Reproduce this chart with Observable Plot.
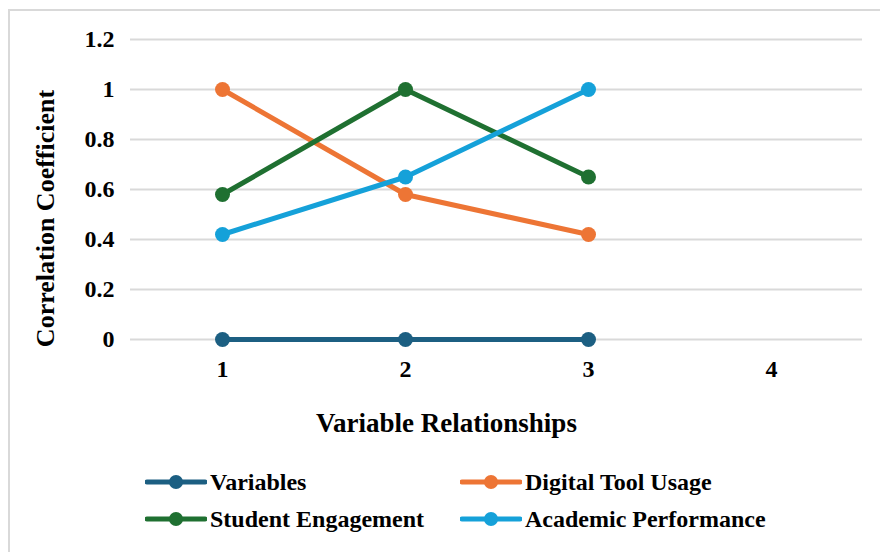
<!DOCTYPE html>
<html>
<head>
<meta charset="utf-8">
<script src="https://cdn.jsdelivr.net/npm/d3@7"></script>
<script src="https://cdn.jsdelivr.net/npm/@observablehq/plot@0.6"></script>
<style>
  html, body { margin: 0; padding: 0; background: #fff; }
  #wrap { position: relative; width: 880px; height: 552px; overflow: hidden; font-family: "Liberation Serif", "Times New Roman", serif; }
  #border { position: absolute; left: 8px; top: 9px; right: -10px; bottom: -10px; border-left: 2px solid #d9d9d9; border-top: 2px solid #d9d9d9; }
  #chart { position: absolute; left: 0; top: 0; }
  .leg { position: absolute; display: flex; align-items: center; font-weight: bold; font-size: 24px; color: #000; white-space: nowrap; }
  .leg svg { margin-right: 3px; }
</style>
</head>
<body>
<div id="wrap">
  <div id="border"></div>
  <div id="chart"></div>
</div>
<script>
const categories = [1, 2, 3, 4];
const seriesNames = ["Variables", "Digital Tool Usage", "Student Engagement", "Academic Performance"];
const seriesColors = ["#1c5f82", "#ed7535", "#1f7031", "#15a1d9"];
const xPoints = [1, 2, 3];
const variablesValues = [0, 0, 0];
const digitalValues = [1, 0.58, 0.42];
const engagementValues = [0.58, 1, 0.65];
const academicValues = [0.42, 0.65, 1];
const yTicks = [0, 0.2, 0.4, 0.6, 0.8, 1, 1.2];
const yTickLabels = ["0", "0.2", "0.4", "0.6", "0.8", "1", "1.2"];

const allValues = [variablesValues, digitalValues, engagementValues, academicValues];
const data = [];
seriesNames.forEach((s, i) => {
  xPoints.forEach((x, j) => data.push({series: s, x, y: allValues[i][j]}));
});

const font = "Liberation Serif, Times New Roman, serif";

const chart = Plot.plot({
  width: 880,
  height: 460,
  marginLeft: 130,
  marginRight: 18,
  marginTop: 39,
  marginBottom: 121,
  style: {fontFamily: font, fontWeight: "bold", fontSize: "24px", color: "#000", background: "transparent"},
  x: {type: "point", domain: categories, padding: 0.5, label: null},
  y: {domain: [0, 1.2], label: null},
  color: {domain: seriesNames, range: seriesColors},
  marks: [
    Plot.gridY(yTicks, {stroke: "#d9d9d9", strokeOpacity: 1, strokeWidth: 2}),
    Plot.axisY(yTicks, {tickSize: 0, tickPadding: 16, tickFormat: (d) => yTickLabels[yTicks.indexOf(d)], fontSize: 24, fontWeight: "bold", label: null}),
    Plot.axisX(categories, {tickSize: 0, tickPadding: 20, fontSize: 24, fontWeight: "bold", label: null}),
    Plot.line(data, {x: "x", y: "y", z: "series", stroke: "series", strokeWidth: 5}),
    Plot.dot(data, {x: "x", y: "y", fill: "series", r: 7.5}),
    Plot.text(["Variable Relationships"], {frameAnchor: "bottom", lineAnchor: "middle", textAnchor: "middle", dx: -50, dy: 84, fontSize: 27, fontWeight: "bold", fill: "#000"}),
    Plot.text(["Correlation Coefficient"], {frameAnchor: "left", lineAnchor: "middle", textAnchor: "middle", dx: -85, dy: 29, rotate: -90, fontSize: 26, fontWeight: "bold", fill: "#000"})
  ]
});
document.getElementById("chart").appendChild(chart);

// Legend
const legPos = [[145, 482], [460, 482], [145, 519], [460, 519]];
const wrap = document.getElementById("wrap");
seriesNames.forEach((s, i) => {
  const div = document.createElement("div");
  div.className = "leg";
  div.style.left = legPos[i][0] + "px";
  div.style.top = (legPos[i][1] - 15) + "px";
  div.style.height = "30px";
  const c = seriesColors[i];
  div.innerHTML = `<svg width="62" height="20"><line x1="2" y1="10" x2="60" y2="10" stroke="${c}" stroke-width="5" stroke-linecap="round"/><circle cx="31" cy="10" r="7" fill="${c}"/></svg><span>${s}</span>`;
  wrap.appendChild(div);
});
</script>
</body>
</html>
